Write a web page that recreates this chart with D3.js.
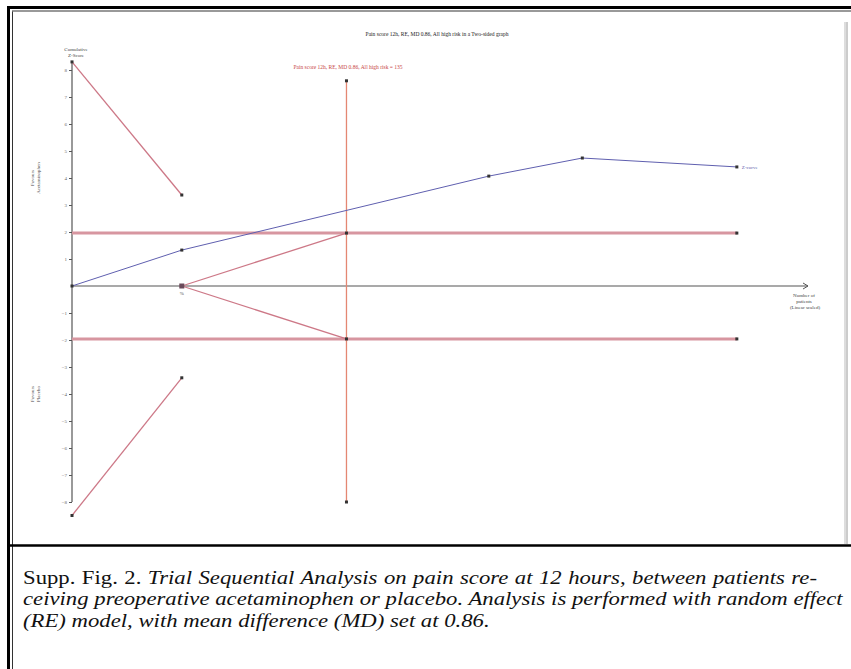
<!DOCTYPE html>
<html>
<head>
<meta charset="utf-8">
<script src="https://cdn.jsdelivr.net/npm/d3@7"></script>
<style>
  body { margin: 0; background: #fff; }
  svg { display: block; }
</style>
</head>
<body>
<svg id="chart" width="851" height="669"></svg>
<script>
// cumulative number of patients at each trial
const patients = [0, 54, 205, 251, 327];
const zCurve = [0, 1.33, 4.07, 4.74, 4.41];
// TSA monitoring boundaries
const boundaryN = [0, 54];
const upperBoundary = [8.3, 3.37];
const lowerBoundary = [-8.5, -3.4];
// futility wedge
const futilityN = [54, 135];
const futilityUpper = [0, 1.96];
const futilityLower = [0, -1.96];
const conventionalZ = 1.96;
const requiredSize = 135;
const risRange = [-8, 7.6];
const yTicks = [8, 7, 6, 5, 4, 3, 2, 1, -1, -2, -3, -4, -5, -6, -7, -8];
const captionLines = [
  ["Supp. Fig. 2. ", "Trial Sequential Analysis on pain score at 12 hours, between patients re-"],
  ["", "ceiving preoperative acetaminophen or placebo. Analysis is performed with random effect"],
  ["", "(RE) model, with mean difference (MD) set at 0.86."]
];

const boundaryColor = "rgb(205,120,135)",
      convColor = "rgb(215,150,160)",
      risColor = "rgb(228,135,115)",
      zColor = "rgb(95,95,175)",
      axisColor = "#555";

var svg = d3.select("#chart");

// frame
svg.append("rect").attr("x", 0).attr("y", 0).attr("width", 851).attr("height", 669).attr("fill", "#fff");
svg.append("line").attr("x1", 8.5).attr("x2", 8.5).attr("y1", 6).attr("y2", 669).attr("stroke", "#000").attr("stroke-width", 3);
svg.append("line").attr("x1", 7).attr("x2", 851).attr("y1", 7.5).attr("y2", 7.5).attr("stroke", "#000").attr("stroke-width", 3);
svg.append("line").attr("x1", 12.5).attr("x2", 12.5).attr("y1", 11).attr("y2", 669).attr("stroke", "#333").attr("stroke-width", 1);
svg.append("line").attr("x1", 12).attr("x2", 851).attr("y1", 11).attr("y2", 11).attr("stroke", "#777").attr("stroke-width", 1.5);
svg.append("line").attr("x1", 8).attr("x2", 851).attr("y1", 545.5).attr("y2", 545.5).attr("stroke", "#000").attr("stroke-width", 2.5);
svg.append("rect").attr("x", 844).attr("y", 22).attr("width", 4).attr("height", 522).attr("fill", "#ddd");
svg.append("line").attr("x1", 847).attr("x2", 847).attr("y1", 22).attr("y2", 544).attr("stroke", "#bbb").attr("stroke-width", 1);

var x = d3.scaleLinear().domain([0, 362]).range([72, 808]),
    y = d3.scaleLinear().domain([-8, 8]).range([502, 70]);

var g = svg.append("g");

// y axis
g.append("line").attr("x1", x(0)).attr("x2", x(0)).attr("y1", y(8.3)).attr("y2", y(-8))
  .attr("stroke", axisColor).attr("stroke-width", 1.2);
var yAxis = d3.axisLeft(y).tickValues(yTicks).tickSize(3).tickPadding(2).tickFormat(d3.format("d"));
var ya = g.append("g").attr("transform", "translate(" + x(0) + ",0)").call(yAxis);
ya.select(".domain").remove();
ya.selectAll("line").attr("stroke", axisColor);
ya.selectAll("text").attr("font-size", 5).attr("fill", "#666").attr("font-family", "Liberation Serif");

// x axis with arrow
g.append("line").attr("x1", x(0)).attr("x2", x(362)).attr("y1", y(0)).attr("y2", y(0))
  .attr("stroke", axisColor).attr("stroke-width", 1.2);
g.append("path").attr("d", "M" + (x(362) - 5) + "," + (y(0) - 3) + "L" + x(362) + "," + y(0) + "L" + (x(362) - 5) + "," + (y(0) + 3))
  .attr("fill", "none").attr("stroke", axisColor);

var lab = g.append("g").attr("font-family", "Liberation Serif").attr("font-size", 5).attr("fill", "#444").attr("text-anchor", "middle");
lab.append("text").attr("x", 804).attr("y", 297).text("Number of");
lab.append("text").attr("x", 804).attr("y", 303).text("patients");
lab.append("text").attr("x", 805).attr("y", 309).text("(Linear scaled)");
lab.append("text").attr("x", 76).attr("y", 51).text("Cumulative");
lab.append("text").attr("x", 76).attr("y", 57).text("Z-Score");
lab.append("text").attr("transform", "translate(34,178) rotate(-90)").text("Favours");
lab.append("text").attr("transform", "translate(40,178) rotate(-90)").text("Acetaminophen");
lab.append("text").attr("transform", "translate(34,394) rotate(-90)").text("Favours");
lab.append("text").attr("transform", "translate(40,394) rotate(-90)").text("Placebo");
lab.append("text").attr("x", x(patients[1])).attr("y", y(0) + 9).text("%");

g.append("text").attr("x", 437).attr("y", 36).attr("text-anchor", "middle")
  .attr("font-family", "Liberation Serif").attr("font-size", 5.5).attr("fill", "#222")
  .text("Pain score 12h, RE, MD 0.86, All high risk in a Two-sided graph");

var line = d3.line().x(function(d) { return x(d[0]); }).y(function(d) { return y(d[1]); });

// conventional boundaries
[conventionalZ, -conventionalZ].forEach(function(z) {
  g.append("path").datum([[0, z], [patients[patients.length - 1], z]])
    .attr("d", line).attr("stroke", convColor).attr("stroke-width", 3).attr("fill", "none");
});

// required information size
g.append("path").datum([[requiredSize, risRange[0]], [requiredSize, risRange[1]]])
  .attr("d", line).attr("stroke", risColor).attr("stroke-width", 1.3).attr("fill", "none");
g.append("text").attr("x", 348).attr("y", 69).attr("text-anchor", "middle")
  .attr("font-family", "Liberation Serif").attr("font-size", 5.5).attr("fill", "rgb(200,70,70)")
  .text("Pain score 12h, RE, MD 0.86, All high risk = 135");

// monitoring boundaries
g.append("path").datum(d3.zip(boundaryN, upperBoundary)).attr("d", line)
  .attr("stroke", boundaryColor).attr("stroke-width", 1.3).attr("fill", "none");
g.append("path").datum(d3.zip(boundaryN, lowerBoundary)).attr("d", line)
  .attr("stroke", boundaryColor).attr("stroke-width", 1.3).attr("fill", "none");
g.append("path").datum(d3.zip(futilityN, futilityUpper)).attr("d", line)
  .attr("stroke", boundaryColor).attr("stroke-width", 1.3).attr("fill", "none");
g.append("path").datum(d3.zip(futilityN, futilityLower)).attr("d", line)
  .attr("stroke", boundaryColor).attr("stroke-width", 1.3).attr("fill", "none");

// z-curve
g.append("path").datum(d3.zip(patients, zCurve)).attr("d", line)
  .attr("stroke", zColor).attr("stroke-width", 1).attr("fill", "none");
g.append("text").attr("x", x(patients[4]) + 5).attr("y", y(zCurve[4]) + 2)
  .attr("font-family", "Liberation Serif").attr("font-size", 5).attr("fill", zColor).text("Z-curve");

// markers
var pts = d3.zip(patients, zCurve)
  .concat(d3.zip(boundaryN, upperBoundary))
  .concat(d3.zip(boundaryN, lowerBoundary))
  .concat(d3.zip(futilityN, futilityUpper))
  .concat(d3.zip(futilityN, futilityLower))
  .concat([[patients[4], conventionalZ], [patients[4], -conventionalZ], [requiredSize, risRange[1]], [requiredSize, risRange[0]]]);
g.selectAll(".pt").data(pts).enter().append("rect")
  .attr("class", "pt")
  .attr("x", function(d) { return x(d[0]) - 1.5; })
  .attr("y", function(d) { return y(d[1]) - 1.5; })
  .attr("width", 3).attr("height", 3).attr("fill", "#333");
g.append("rect").attr("x", x(patients[1]) - 2.5).attr("y", y(0) - 2.5).attr("width", 5).attr("height", 5).attr("fill", "#6a4a5a");

// caption: one horizontal scale from the full second line, first line justified
var cap = svg.append("g").attr("font-family", "Liberation Serif, DejaVu Serif, serif").attr("font-size", 19).attr("fill", "#111");
var widths = [794, 820];
var texts = captionLines.map(function(l, i) {
  var t = cap.append("text").attr("x", 0).attr("y", 584 + i * 21.5);
  if (l[0]) t.append("tspan").text(l[0]);
  t.append("tspan").attr("font-style", "italic").text(l[1]);
  return t;
});
var s = widths[1] / texts[1].node().getComputedTextLength();
cap.attr("transform", "translate(23,0) scale(" + s + ",1)");
var w0 = texts[0].node().getComputedTextLength(),
    n0 = (captionLines[0][0] + captionLines[0][1]).trim().split(" ").length - 1;
texts[0].attr("word-spacing", (widths[0] / s - w0) / n0);
</script>
</body>
</html>
